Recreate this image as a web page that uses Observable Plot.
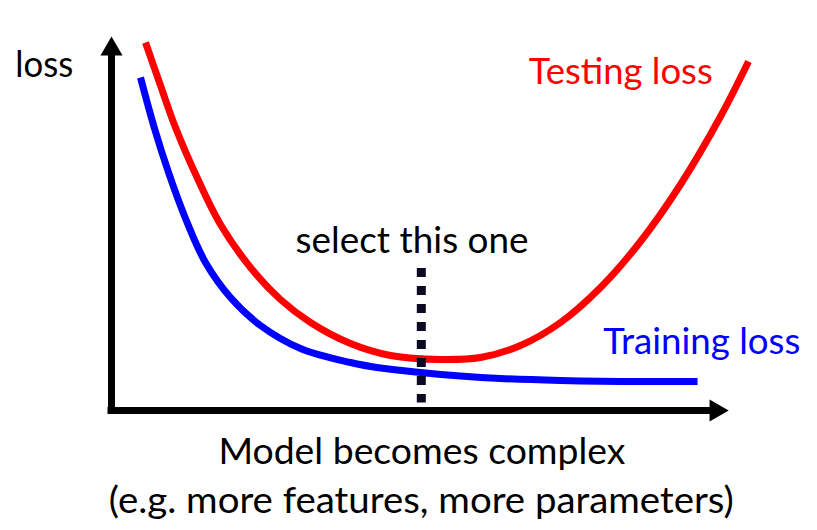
<!DOCTYPE html>
<html>
<head>
<meta charset="utf-8">
<script src="https://cdn.jsdelivr.net/npm/d3@7"></script>
<script src="https://cdn.jsdelivr.net/npm/@observablehq/plot@0.6"></script>
<style>
  html, body { margin: 0; padding: 0; background: #ffffff; }
  #chart svg { display: block; }
</style>
</head>
<body>
<div id="chart"></div>
<script>
// Model complexity (arbitrary units, 0–100 along the x axis) and loss (0–100)
const testComplexity = [5.51, 7.94, 10.37, 13.94, 17.66, 22.52, 27.38, 32.25, 38.73, 45.21, 53.31, 59.79, 66.27, 72.76, 79.24, 85.72, 92.20, 98.68, 103.22];
const testingLoss    = [98.40, 86.90, 75.67, 62.03, 49.73, 38.24, 29.68, 23.53, 17.91, 14.71, 13.64, 14.17, 17.38, 23.53, 32.89, 45.19, 60.43, 78.61, 93.32];

const trainComplexity = [4.70, 6.97, 9.24, 11.99, 15.23, 19.28, 24.14, 30.62, 38.73, 43.59, 50.07, 56.55, 63.03, 72.76, 82.48, 94.96];
const trainingLoss    = [89.04, 75.40, 63.64, 51.34, 39.57, 30.21, 22.73, 16.58, 12.83, 11.36, 10.16, 9.22, 8.56, 8.02, 7.75, 7.75];

// selected model
const selectedComplexity = 50.2;
const selectedRange = [38, 2];

// labels
const labelTexts = ["loss", "Testing loss", "Training loss", "select this one", "Model becomes complex", "(e.g. more features, more parameters)"];
const labelX = [-15.6, 67.6, 79.7, 48.7, 50.3, 50.2];
const labelY = [89.3, 87.2, 15.0, 42.2, -14.4, -27.3];
const labelColor = ["#000000", "#ff0000", "#0000ff", "#000000", "#000000", "#000000"];
const labelAnchor = ["start", "start", "start", "middle", "middle", "middle"];
const labelWidth = [58, 184, 197, 233, 407, 625];

const testData = testComplexity.map((x, i) => ({x, y: testingLoss[i]}));
const trainData = trainComplexity.map((x, i) => ({x, y: trainingLoss[i]}));
const labels = labelTexts.map((text, i) => ({text, x: labelX[i], y: labelY[i], color: labelColor[i], anchor: labelAnchor[i], w: labelWidth[i]}));

const textMarks = labels.map(d => Plot.text([d], {
  x: "x", y: "y", text: "text", fill: d.color, textAnchor: d.anchor,
  lineAnchor: "bottom", fontSize: 36, fontFamily: "Lato"
}));

const chart = Plot.plot({
  width: 817,
  height: 530,
  marginLeft: 111,
  marginRight: 58,
  marginTop: 36,
  marginBottom: 120,
  x: {domain: [0, 105], axis: null},
  y: {domain: [0, 100], axis: null},
  style: {background: "#ffffff", fontFamily: "Lato"},
  marks: [
    // axes
    Plot.ruleX([0], {y1: 0, y2: 96, stroke: "#000", strokeWidth: 7, strokeLinecap: "square"}),
    Plot.ruleY([0], {x1: 0, x2: 97, stroke: "#000", strokeWidth: 7, strokeLinecap: "square"}),
    Plot.dot([{x: 0, y: 100}], {x: "x", y: "y", symbol: "triangle", r: 8.2, fill: "#000", stroke: null, dy: 12.7}),
    Plot.dot([{x: 100, y: 0}], {x: "x", y: "y", symbol: "triangle", r: 8.2, fill: "#000", stroke: null, rotate: 90, dx: -12.7}),
    // curves
    Plot.line(trainData, {x: "x", y: "y", stroke: "#0000ff", strokeWidth: 7, curve: "catmull-rom", strokeLinecap: "butt"}),
    Plot.line(testData, {x: "x", y: "y", stroke: "#ff0000", strokeWidth: 7, curve: "catmull-rom", strokeLinecap: "butt"}),
    // selected model marker
    Plot.ruleX([selectedComplexity], {y1: selectedRange[0], y2: selectedRange[1], stroke: "#0a0a23", strokeWidth: 9, strokeDasharray: "9,9"}),
    ...textMarks
  ]
});

document.getElementById("chart").appendChild(chart);

// fit each label to the width it has in the reference
chart.querySelectorAll("text").forEach(t => {
  const d = labels.find(l => l.text === t.textContent);
  if (d) {
    t.setAttribute("textLength", d.w);
    t.setAttribute("lengthAdjust", "spacingAndGlyphs");
  }
});
</script>
</body>
</html>
